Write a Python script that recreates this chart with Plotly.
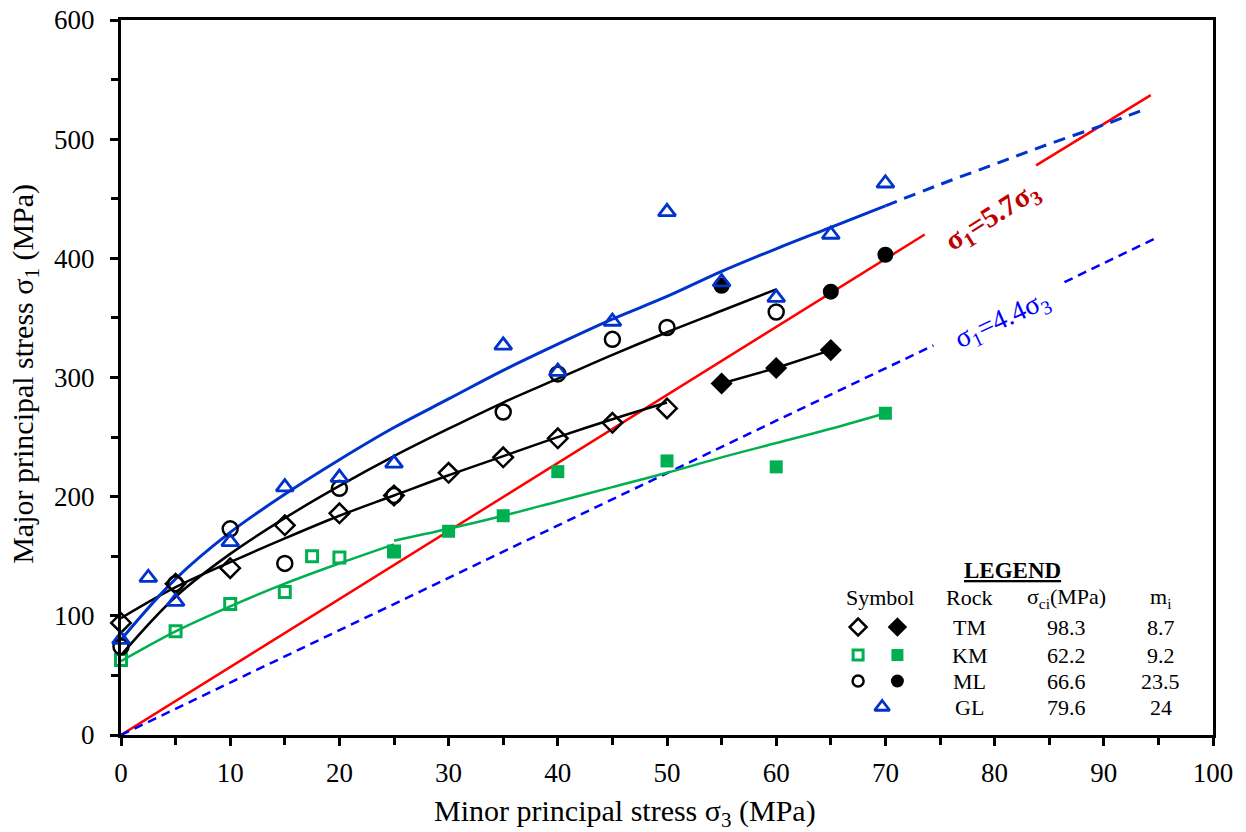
import plotly.graph_objects as go

FONT = "Liberation Serif"
BLACK = "#000000"
GREEN = "#00B050"
BLUE = "#0033CC"
BLUE2 = "#0000FF"
RED = "#FF0000"
DARKRED = "#C00000"

# ---- measured data (sigma3, sigma1) ----
tm_open_x = [0, 5, 10, 15, 20, 25, 30, 35, 40, 45, 50]
tm_open_y = [94, 127, 140, 176, 186, 201, 220, 233, 249, 262, 274]
tm_fill_x = [55, 60, 65]
tm_fill_y = [295, 308, 323]

km_open_x = [0, 5, 10, 15, 17.5, 20, 25]
km_open_y = [63, 87, 110, 120, 150, 149, 154]
km_fill_x = [25, 30, 35, 40, 50, 60, 70]
km_fill_y = [154, 171, 184, 221, 230, 225, 270]

ml_open_x = [0, 5, 10, 15, 20, 25, 35, 40, 45, 50, 60]
ml_open_y = [74, 127, 173, 144, 207, 201, 271, 303, 332, 342, 355]
ml_fill_x = [55, 65, 70]
ml_fill_y = [377, 372, 403]

gl_x = [0, 2.5, 5, 10, 15, 20, 25, 35, 40, 45, 50, 55, 60, 65, 70]
gl_y = [80, 132, 112, 162, 208, 216, 228, 327, 305, 347, 439, 380, 367, 420, 463]

# ---- fitted curves ----
tm_fit_x = [0, 5, 10, 15, 20, 25, 30, 35, 40, 45, 50]
tm_fit_y = [98, 124, 145, 165, 184, 201, 218, 234, 250, 265, 279]

km_fit_x = [0, 5, 10, 15, 20, 25]
km_fit_y = [62, 87, 108, 127, 144, 160]
km_fit2_x = [25, 30, 35, 40, 45, 50, 55, 60, 65, 70]
km_fit2_y = [163, 173, 184, 196, 208, 220, 233, 245, 257, 270]

ml_fit_x = [0, 5, 10, 15, 20, 25, 30, 35, 40, 45, 50, 55, 60]
ml_fit_y = [67, 116, 152, 182, 209, 234, 257, 279, 299, 319, 338, 356, 374]

gl_fit_x = [0, 5, 10, 15, 20, 25, 30, 35, 40, 45, 50, 55, 60, 65, 70]
gl_fit_y = [80, 131, 170, 202, 231, 258, 282, 306, 328, 349, 368, 389, 408, 426, 444]
gl_ext_x = [70, 75, 80, 85, 90, 94]
gl_ext_y = [444, 462, 479, 496, 512, 526]

# ---- reference lines ----
red_a_x, red_a_y = [0, 73.6], [0, 420]
red_b_x, red_b_y = [83.8, 94.3], [478, 537]
blue_a_x, blue_a_y = [0, 74.4], [0, 327]
blue_b_x, blue_b_y = [86.4, 95], [380, 418]

# ---- legend table ----
leg_rows = ["TM", "KM", "ML", "GL"]
leg_sci = ["98.3", "62.2", "66.6", "79.6"]
leg_mi = ["8.7", "9.2", "23.5", "24"]
leg_row_y = [90.6, 67.1, 45.3, 23.5]

fig = go.Figure()

def line(x, y, color, width=2.5, dash="solid", shape="linear"):
    fig.add_trace(go.Scatter(x=x, y=y, mode="lines", line=dict(color=color, width=width, dash=dash, shape=shape),
                             showlegend=False, hoverinfo="skip", cliponaxis=False))

line(red_a_x, red_a_y, RED, 2.5)
line(red_b_x, red_b_y, RED, 2.5)
line(blue_a_x, blue_a_y, BLUE2, 2.5, "9px,6px")
line(blue_b_x, blue_b_y, BLUE2, 2.5, "9px,6px")

line(km_fit_x, km_fit_y, GREEN, 2.5, shape="spline")
line(km_fit2_x, km_fit2_y, GREEN, 2.5, shape="spline")
line(tm_fit_x, tm_fit_y, BLACK, 2.5, shape="spline")
line(tm_fill_x, tm_fill_y, BLACK, 2.5)
line(ml_fit_x, ml_fit_y, BLACK, 2.5, shape="spline")
line(gl_fit_x, gl_fit_y, BLUE, 3, shape="spline")
line(gl_ext_x, gl_ext_y, BLUE, 3, "12px,8px", shape="spline")

def pts(x, y, symbol, color, size, lw=2.5):
    fig.add_trace(go.Scatter(x=x, y=y, mode="markers",
                             marker=dict(symbol=symbol, size=size, color=color,
                                         line=dict(color=color, width=lw)),
                             showlegend=False, cliponaxis=False))

pts(km_open_x, km_open_y, "square-open", GREEN, 11, 3)
pts(km_fill_x, km_fill_y, "square", GREEN, 13, 0)
pts(tm_open_x, tm_open_y, "diamond-open", BLACK, 15)
pts(tm_fill_x, tm_fill_y, "diamond", BLACK, 17, 0)
pts(ml_open_x, ml_open_y, "circle-open", BLACK, 15)
pts(ml_fill_x, ml_fill_y, "circle", BLACK, 16, 0)
pts(gl_x, gl_y, "triangle-up-open", BLUE, 15, 2.8)

# legend symbols
pts([67.5], [leg_row_y[0]], "diamond-open", BLACK, 13)
pts([71.1], [leg_row_y[0]], "diamond", BLACK, 15, 0)
pts([67.5], [leg_row_y[1]], "square-open", GREEN, 10, 3)
pts([71.1], [leg_row_y[1]], "square", GREEN, 12, 0)
pts([67.5], [leg_row_y[2]], "circle-open", BLACK, 11)
pts([71.1], [leg_row_y[2]], "circle", BLACK, 13, 0)
pts([69.7], [leg_row_y[3]], "triangle-up-open", BLUE, 13, 2.8)

ann = []
def txt(x, y, s, size=22, color=BLACK, angle=0, **kw):
    ann.append(dict(x=x, y=y, xref="x", yref="y", text=s, showarrow=False,
                    font=dict(family=FONT, size=size, color=color), textangle=angle,
                    xanchor="center", yanchor="middle", **kw))

txt(81.6, 138, "<b><u>LEGEND</u></b>", 23)
txt(69.5, 115, "Symbol", 22)
txt(77.7, 115, "Rock", 22)
txt(86.6, 115, "σ<sub>ci</sub>(MPa)", 22)
txt(95.2, 115, "m<sub>i</sub>", 22)
for r, s, m, yy in zip(leg_rows, leg_sci, leg_mi, leg_row_y):
    txt(77.7, yy, r, 22)
    txt(86.6, yy, s, 22)
    txt(95.2, yy, m, 22)

txt(79.8, 435, "<b>σ<sub>1</sub>=5.7σ<sub>3</sub></b>", 29, DARKRED, -32)
txt(80.7, 348, "σ<sub>1</sub>=4.4σ<sub>3</sub>", 28, BLUE2, -25)

# axis titles
ann.append(dict(x=0.4615, y=-0.109, xref="paper", yref="paper", showarrow=False,
                text="Minor principal stress σ<sub>3</sub> (MPa)", xanchor="center", yanchor="middle",
                font=dict(family=FONT, size=30, color=BLACK)))
ann.append(dict(x=-0.088, y=0.505, xref="paper", yref="paper", showarrow=False, textangle=-90,
                text="Major principal stress σ<sub>1</sub> (MPa)", xanchor="center", yanchor="middle",
                font=dict(family=FONT, size=30, color=BLACK)))

axis_common = dict(showgrid=False, zeroline=False, showline=True, linewidth=3, linecolor=BLACK,
                   mirror=True, ticks="outside", ticklen=8, tickwidth=2.5, tickcolor=BLACK,
                   automargin=False,
                   tickfont=dict(family=FONT, size=27, color=BLACK))

fig.update_layout(
    width=1246, height=832,
    margin=dict(l=121, r=33, t=20, b=97),
    paper_bgcolor="white", plot_bgcolor="white",
    annotations=ann,
    xaxis=dict(range=[0, 100], dtick=10, tick0=0, ticklabelstandoff=4,
               minor=dict(dtick=5, ticks="outside", ticklen=7, tickwidth=2.5, tickcolor=BLACK),
               **axis_common),
    yaxis=dict(range=[0, 600], dtick=100, tick0=0, ticklabelstandoff=10,
               minor=dict(dtick=50, ticks="outside", ticklen=7, tickwidth=2.5, tickcolor=BLACK),
               **axis_common),
)

fig.write_html("out.html")
